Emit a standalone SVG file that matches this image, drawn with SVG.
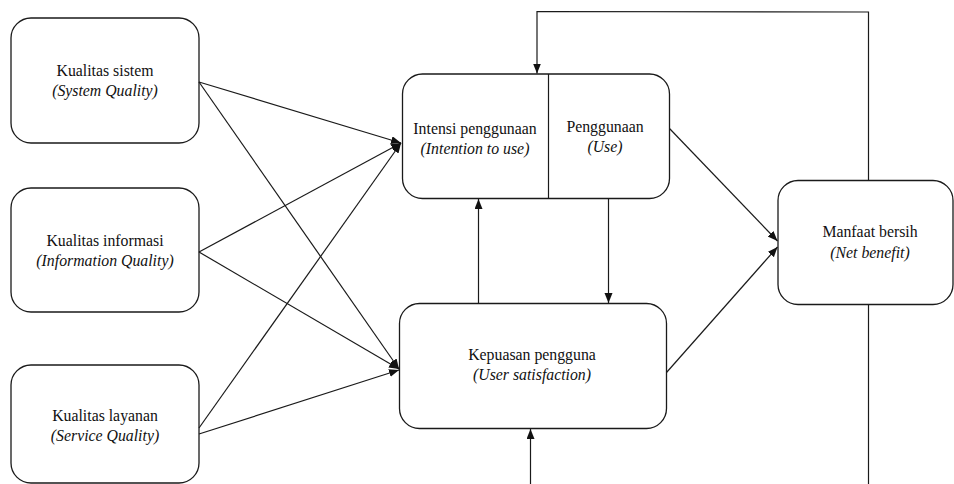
<svg xmlns="http://www.w3.org/2000/svg" width="954" height="484" viewBox="0 0 954 484">
<style>
.box{fill:#fff;stroke:#1a1a1a;stroke-width:1.3}
.t{font-family:'Liberation Serif',Tinos,'Times New Roman',Times,'DejaVu Serif',serif;font-size:15.8px;fill:#111;text-anchor:middle}
.i{font-style:italic}
.c{fill:none;stroke:#1a1a1a;stroke-width:1.2}
</style>
<defs>
<marker id="ah" markerUnits="userSpaceOnUse" markerWidth="12" markerHeight="10" refX="10" refY="4" orient="auto">
<path d="M0,0 L10,4 L0,8 Z" fill="#111"/>
</marker>
</defs>
<rect width="954" height="484" fill="#fff"/>
<g id="n-sistem">
<rect class="box" x="11" y="18" width="188" height="125" rx="20"/>
<text class="t" x="105" y="76">Kualitas sistem</text>
<text class="t i" x="105" y="96">(System Quality)</text>
</g>
<g id="n-informasi">
<rect class="box" x="11" y="188" width="188" height="124" rx="20"/>
<text class="t" x="105" y="246">Kualitas informasi</text>
<text class="t i" x="105" y="266">(Information Quality)</text>
</g>
<g id="n-layanan">
<rect class="box" x="11" y="365" width="188" height="118" rx="20"/>
<text class="t" x="105" y="421">Kualitas layanan</text>
<text class="t i" x="105" y="441">(Service Quality)</text>
</g>
<g id="n-intensi">
<rect class="box" x="402.5" y="74" width="267" height="124.5" rx="20"/>
<line class="c" x1="548.5" y1="74" x2="548.5" y2="198.5"/>
<text class="t" x="475" y="134">Intensi penggunaan</text>
<text class="t i" x="475" y="154">(Intention to use)</text>
<text class="t" x="605" y="132">Penggunaan</text>
<text class="t i" x="605" y="152">(Use)</text>
</g>
<g id="n-kepuasan">
<rect class="box" x="399.5" y="303.5" width="267" height="125" rx="20"/>
<text class="t" x="532" y="360">Kepuasan pengguna</text>
<text class="t i" x="532" y="380">(User satisfaction)</text>
</g>
<g id="n-manfaat">
<rect class="box" x="778" y="180.5" width="175" height="124" rx="20"/>
<text class="t" x="870" y="237">Manfaat bersih</text>
<text class="t i" x="870" y="258">(Net benefit)</text>
</g>
<g id="connectors">
<line class="c" x1="199" y1="82" x2="401" y2="143" marker-end="url(#ah)"/>
<line class="c" x1="199" y1="82" x2="399" y2="369" marker-end="url(#ah)"/>
<line class="c" x1="199" y1="252" x2="401" y2="143" marker-end="url(#ah)"/>
<line class="c" x1="199" y1="252" x2="399" y2="369" marker-end="url(#ah)"/>
<line class="c" x1="199" y1="428" x2="401" y2="143" marker-end="url(#ah)"/>
<line class="c" x1="199" y1="434" x2="399" y2="370" marker-end="url(#ah)"/>
<line class="c" x1="478.5" y1="303.5" x2="478.5" y2="199" marker-end="url(#ah)"/>
<line class="c" x1="608.5" y1="198.5" x2="608.5" y2="303" marker-end="url(#ah)"/>
<line class="c" x1="530.5" y1="484" x2="530.5" y2="429" marker-end="url(#ah)"/>
<line class="c" x1="669.5" y1="128.5" x2="777.5" y2="241" marker-end="url(#ah)"/>
<line class="c" x1="666.5" y1="372.5" x2="777.5" y2="247" marker-end="url(#ah)"/>
<polyline class="c" points="868.5,180.5 868.5,12 537,11.5 537,73.5" marker-end="url(#ah)"/>
<line class="c" x1="868.5" y1="304.5" x2="868.5" y2="484"/>
</g>
</svg>
